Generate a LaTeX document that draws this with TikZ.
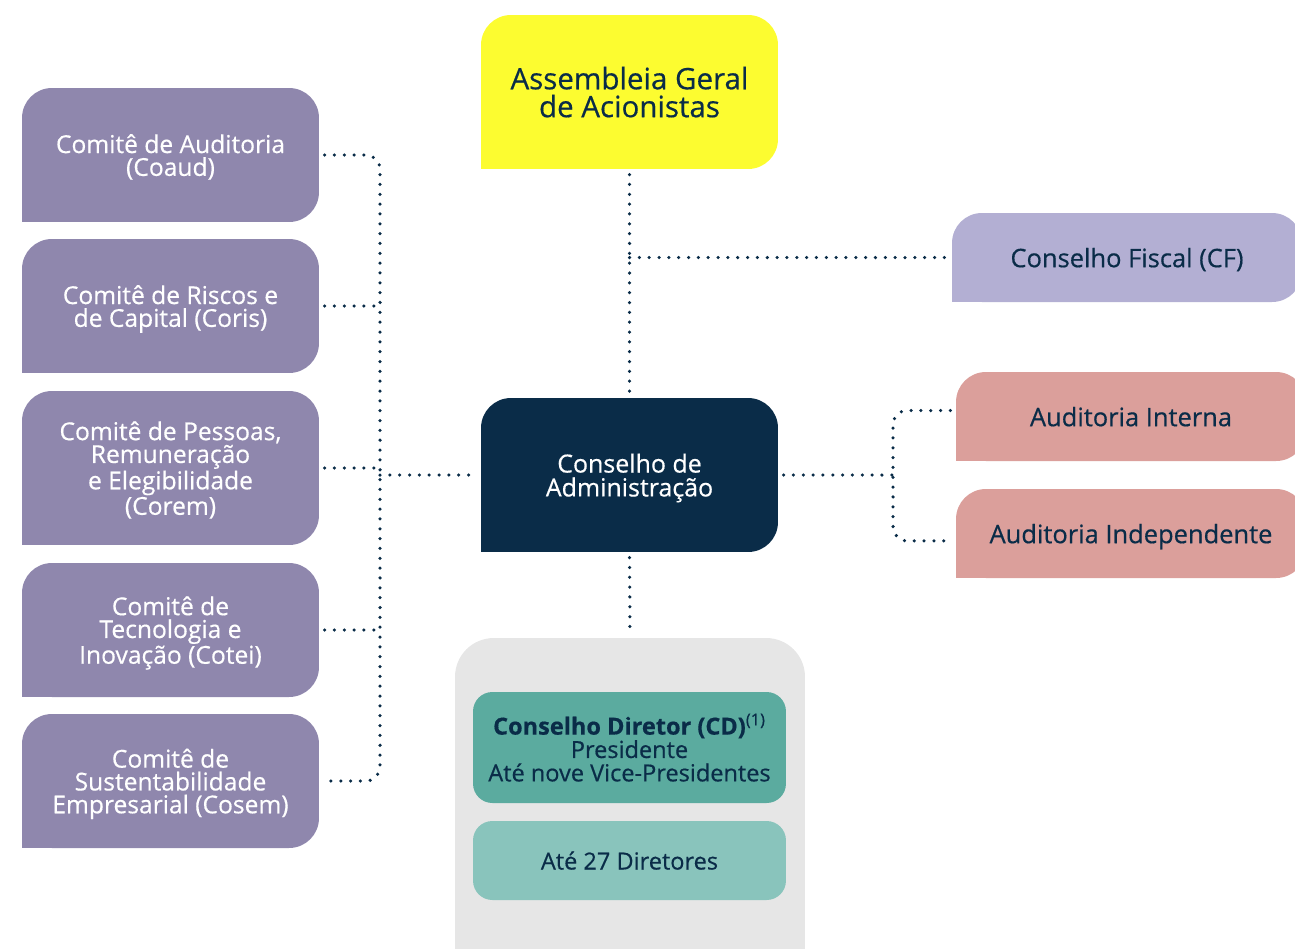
\documentclass[tikz,border=0pt]{standalone}
\usepackage{fontspec}
\setmainfont{Open Sans}[FakeBold=0.5]
\usetikzlibrary{calc}

\definecolor{navy}{HTML}{0A2C48}
\definecolor{comite}{HTML}{8F87AD}
\definecolor{assembleia}{HTML}{FCFC30}
\definecolor{fiscal}{HTML}{B3AFD3}
\definecolor{auditoria}{HTML}{DB9F9B}
\definecolor{diretoria}{HTML}{E6E6E6}
\definecolor{tealDark}{HTML}{5BAB9F}
\definecolor{tealLight}{HTML}{89C4BC}

\begin{document}
\begin{tikzpicture}
[x=0.02cm, y=-0.02cm,
  orgBox/.style={shape=rectangle, fill=#1, rounded corners=17pt, inner sep=2pt,
    align=center, text=navy, text depth=-4pt, font=\fontsize{14}{13}\selectfont},
  sqCorner/.style={append after command={\pgfextra{%
    \fill[#1, sharp corners] (\tikzlastnode.south west) rectangle ++(32,-32);}}},
  committee/.style={orgBox=comite, sqCorner=comite, text=white,
    minimum width=5.94cm, minimum height=2.68cm},
  rightBox/.style={orgBox=#1, sqCorner=#1, minimum width=7cm, minimum height=1.78cm,
    font=\fontsize{14.5}{14}\selectfont},
  tealBox/.style={shape=rectangle, fill=#1, rounded corners=11pt, text=navy,
    align=center, text depth=-3.5pt, minimum width=6.26cm,
    font=\fontsize{13.4}{13.3}\selectfont},
  dotLine/.style={navy, line width=2pt, line cap=round, dash pattern=on 0pt off 5.6pt}]
\path[use as bounding box, clip] (0,0) rectangle (1295,948);

%% committees on the left
\node (coaud) at (170.5,155) [committee] {Comitê de Auditoria\\(Coaud)};
\node (coris) at (170.5,306) [committee] {Comitê de Riscos e\\de Capital (Coris)};
\node (corem) at (170.5,468) [committee, minimum height=3.08cm]
  {Comitê de Pessoas,\\Remuneração\\e Elegibilidade\\(Corem)};
\node (cotei) at (170.5,630) [committee] {Comitê de\\Tecnologia e\\Inovação (Cotei)};
\node (cosem) at (170.5,781) [committee]
  {Comitê de\\Sustentabilidade\\Empresarial (Cosem)};

%% central column
\node (ag) at (629.5,92) [orgBox=assembleia, sqCorner=assembleia,
  minimum width=5.94cm, minimum height=3.08cm, text depth=-8pt,
  font=\fontsize{16.8}{15.9}\selectfont] {Assembleia Geral\\de Acionistas};
\node (ca) at (629.5,475) [orgBox=navy, sqCorner=navy, text=white,
  minimum width=5.94cm, minimum height=3.08cm,
  font=\fontsize{14.2}{13.6}\selectfont] {Conselho de\\Administração};
\node (diretoria) at (630,814) [shape=rectangle, fill=diretoria, rounded corners=22pt,
  minimum width=7cm, minimum height=7.04cm] {};
\node (cd) at (629.5,747.5) [tealBox=tealDark, minimum height=2.22cm]
  {\textbf{Conselho Diretor (CD)}\textsuperscript{(1)}\\Presidente\\Até nove Vice-Presidentes};
\node (diretores) at (629.5,860.5) [tealBox=tealLight, minimum height=1.58cm]
  {Até 27 Diretores};

%% fiscal and audit on the right
\node (cf) at (1127,257.5) [rightBox=fiscal] {Conselho Fiscal (CF)};
\node (ai) at (1131,416.5) [rightBox=auditoria] {Auditoria Interna};
\node (aind) at (1131,533.5) [rightBox=auditoria] {Auditoria Independente};

%% dotted links
\coordinate (busL) at (380,475);
\coordinate (busR) at (893,475);
\draw[dotLine, rounded corners=8pt, shorten <=3pt, shorten >=2pt]
  (coaud.east) -| (busL |- cosem.east) -- (cosem.east);
\foreach \comite in {coris, corem, cotei}
{
  \draw[dotLine, shorten <=3pt] (\comite.east) -- (\comite.east -| busL);
}
\draw[dotLine, shorten >=3pt] (busL) -- (ca.west);
\draw[dotLine, shorten <=3pt, shorten >=3pt] (ag.south) -- (ca.north);
\draw[dotLine] (ag.south |- cf.west) -- (cf.west);
\draw[dotLine, shorten <=3pt, shorten >=3pt] (ca.south) -- (diretoria.north);
\draw[dotLine, shorten <=3pt] (ca.east) -- (busR);
\draw[dotLine, rounded corners=8pt, shorten <=3pt, shorten >=3pt]
  ([yshift=3.4pt]ai.west) -| (busR) |- ([yshift=-4.2pt]aind.west);
\end{tikzpicture}
\end{document}
